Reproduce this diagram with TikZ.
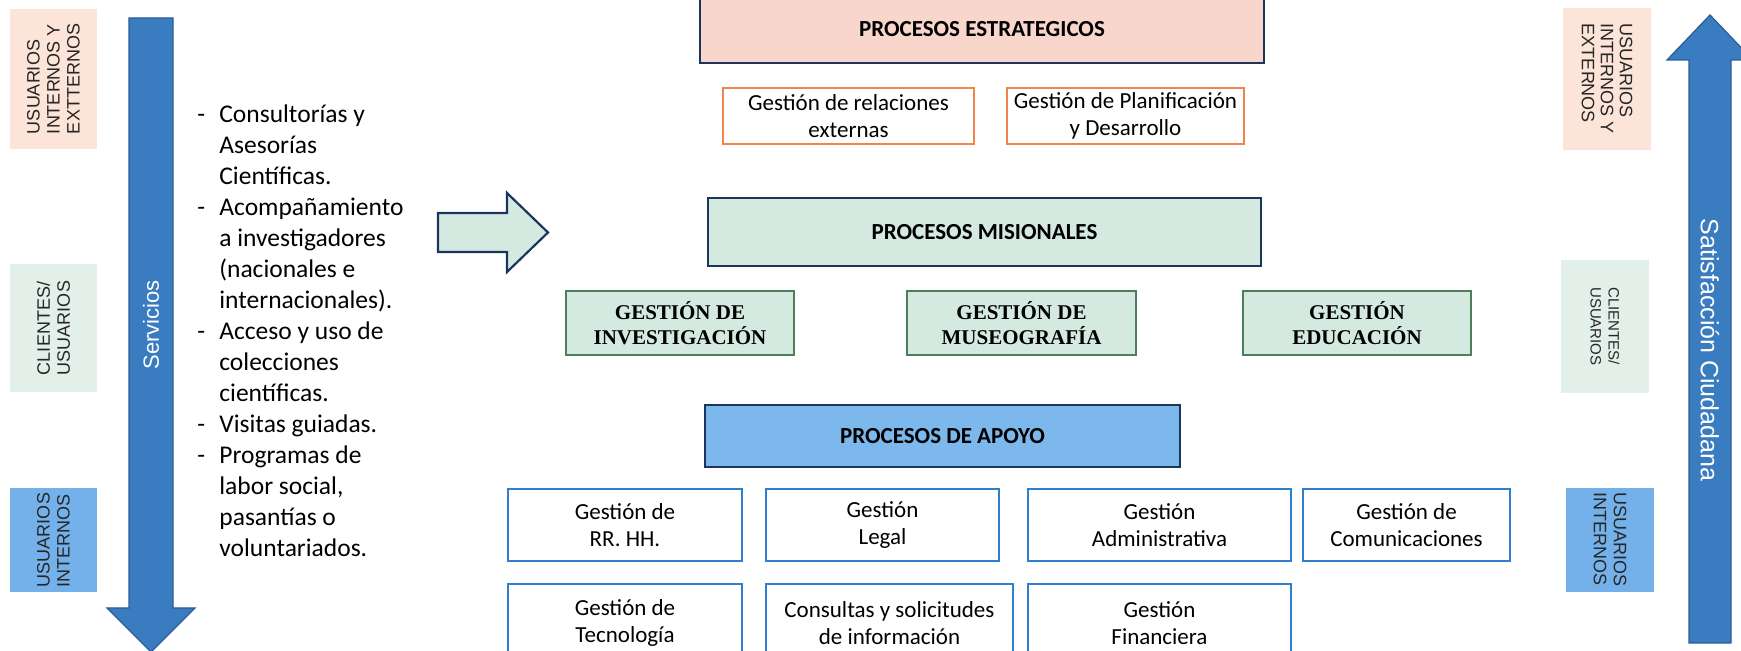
\documentclass[tikz,border=0pt]{standalone}
\usepackage{fontspec}
\setmainfont{Carlito}
\newfontfamily\arialf{Liberation Sans}
\newfontfamily\timesf{Liberation Serif}
\definecolor{peach}{HTML}{FCE4D8}
\definecolor{pinkfill}{HTML}{F8D6CC}
\definecolor{mintfill}{HTML}{D4E9DF}
\definecolor{mintlight}{HTML}{E3F0EA}
\definecolor{skyfill}{HTML}{7DB8EC}
\definecolor{skylbl}{HTML}{74B1EA}
\definecolor{arrowblue}{HTML}{3A7CC0}
\definecolor{arrowedge}{HTML}{2A5D94}
\definecolor{navy}{HTML}{1C355E}
\definecolor{orangeedge}{HTML}{F0844D}
\definecolor{greenedge}{HTML}{4F7F5A}
\definecolor{blueedge}{HTML}{2F7FCF}
\tikzset{
  lbl_box/.style = {inner sep=0pt, align=left, text=black!85,
    font=\arialf\fontsize{9}{10}\selectfont},
  head_box/.style = {draw=navy, line width=1pt, inner sep=0pt,
    font=\bfseries\fontsize{11.5}{14}\selectfont},
  sub_box/.style = {draw, line width=0.8pt, fill=white, inner sep=0pt,
    align=center, font=\fontsize{11.5}{13.5}\selectfont},
  mis_box/.style = {draw=greenedge, line width=0.9pt, fill=mintfill,
    inner sep=0pt, align=center, font=\timesf\bfseries\fontsize{10.5}{12.8}\selectfont},
  blk_arrow/.style = {fill=arrowblue, draw=arrowedge, line width=0.6pt},
  arrow_txt/.style = {text=white, inner sep=0pt, font=\arialf}}

\begin{document}
\begin{tikzpicture}[x=0.5pt,y=-0.5pt]
\useasboundingbox (0,0) rectangle (1741,651);

\draw[blk_arrow] (129,18) -- (173,18) -- (173,608) -- (195,608) -- (151,652)
  -- (107,608) -- (129,608) -- cycle;
\node[arrow_txt, rotate=90, font=\arialf\fontsize{11}{12}\selectfont] (serv) at (151,325) {Servicios};

\draw[blk_arrow] (1689,643) -- (1689,60) -- (1667,60) -- (1710,15) -- (1753,60)
  -- (1731,60) -- (1731,643) -- cycle;
\node[arrow_txt, rotate=-90, font=\arialf\fontsize{12.5}{14}\selectfont] (satis) at (1710,350) {Satisfacción Ciudadana};

\node[lbl_box, rotate=90, fill=peach, minimum width=70pt, minimum height=43.5pt] (l_ext) at (53.5,79)
  {USUARIOS\\INTERNOS Y\\EXTTERNOS};
\node[lbl_box, rotate=90, fill=mintlight, minimum width=64pt, minimum height=43.5pt] (l_cli) at (53.5,328)
  {CLIENTES/\\USUARIOS};
\node[lbl_box, rotate=90, fill=skylbl, minimum width=52pt, minimum height=43.5pt] (l_int) at (53.5,540)
  {USUARIOS\\INTERNOS};

\node[lbl_box, rotate=-90, fill=peach, minimum width=71pt, minimum height=44pt,
  font=\arialf\fontsize{9}{9.5}\selectfont] (r_ext) at (1607,79)
  {USUARIOS\\INTERNOS Y\\EXTERNOS};
\node[lbl_box, rotate=-90, fill=mintlight, minimum width=66.5pt, minimum height=44pt,
  font=\arialf\fontsize{7.5}{9}\selectfont] (r_cli) at (1605,326.5)
  {CLIENTES/\\USUARIOS};
\node[lbl_box, rotate=-90, fill=skylbl, minimum width=52pt, minimum height=44pt] (r_int) at (1610,540)
  {USUARIOS\\INTERNOS};

\node[anchor=north west, inner sep=0pt, font=\fontsize{12.75}{15.5}\selectfont] (serv_list) at (197,100) {%
\begin{tabular}{@{}p{11pt}@{}l@{}}
- & Consultorías y\\
  & Asesorías\\
  & Científicas.\\
- & Acompañamiento\\
  & a investigadores\\
  & (nacionales e\\
  & internacionales).\\
- & Acceso y uso de\\
  & colecciones\\
  & científicas.\\
- & Visitas guiadas.\\
- & Programas de\\
  & labor social,\\
  & pasantías o\\
  & voluntariados.
\end{tabular}};

\draw[fill=mintfill, draw=navy, line width=1.1pt] (438,213) -- (507,213) -- (507,193)
  -- (548,232.5) -- (507,272) -- (507,252) -- (438,252) -- cycle;

\node[head_box, fill=pinkfill, minimum width=282pt, minimum height=34pt] (p_est) at (982,29)
  {PROCESOS ESTRATEGICOS};
\node[sub_box, draw=orangeedge, minimum width=125.5pt, minimum height=28pt] (g_rel) at (848.5,116)
  {Gestión de relaciones\\externas};
\node[sub_box, draw=orangeedge, minimum width=118.5pt, minimum height=28pt] (g_plan) at (1125.5,116)
  {Gestión de Planificación\\y Desarrollo};

\node[head_box, fill=mintfill, minimum width=276.5pt, minimum height=34pt] (p_mis) at (984.5,232)
  {PROCESOS MISIONALES};
\node[mis_box, minimum width=114pt, minimum height=32pt] (g_inv) at (680,323)
  {GESTIÓN DE\\INVESTIGACIÓN};
\node[mis_box, minimum width=114.5pt, minimum height=32pt] (g_mus) at (1021.5,323)
  {GESTIÓN DE\\MUSEOGRAFÍA};
\node[mis_box, minimum width=114pt, minimum height=32pt] (g_edu) at (1357,323)
  {GESTIÓN\\EDUCACIÓN};

\node[head_box, fill=skyfill, minimum width=237.5pt, minimum height=31pt] (p_apo) at (942.5,436)
  {PROCESOS DE APOYO};
\node[sub_box, draw=blueedge, minimum width=117pt, minimum height=36pt] (g_rrhh) at (625,525)
  {Gestión de\\RR. HH.};
\node[sub_box, draw=blueedge, minimum width=116.5pt, minimum height=36pt] (g_leg) at (882.5,525)
  {Gestión\\Legal};
\node[sub_box, draw=blueedge, minimum width=131.5pt, minimum height=36pt] (g_adm) at (1159.5,525)
  {Gestión\\Administrativa};
\node[sub_box, draw=blueedge, minimum width=103.5pt, minimum height=36pt] (g_com) at (1406.5,525)
  {Gestión de\\Comunicaciones};
\node[sub_box, draw=blueedge, minimum width=117pt, minimum height=39pt] (g_tec) at (625,623)
  {Gestión de\\Tecnología};
\node[sub_box, draw=blueedge, minimum width=123.5pt, minimum height=39pt] (g_con) at (889.5,623)
  {Consultas y solicitudes\\de información};
\node[sub_box, draw=blueedge, minimum width=131.5pt, minimum height=39pt] (g_fin) at (1159.5,623)
  {Gestión\\Financiera};
\end{tikzpicture}
\end{document}
